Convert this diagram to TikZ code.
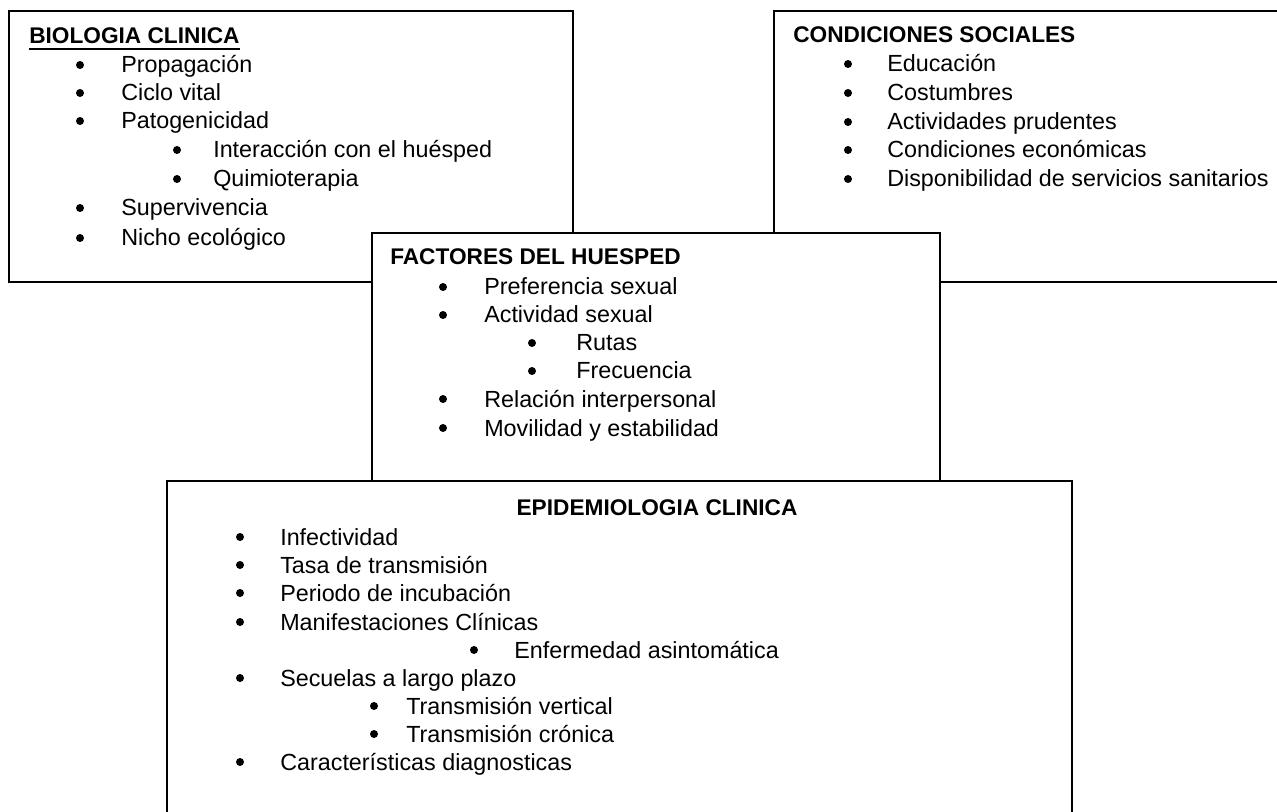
\documentclass[tikz,border=0pt]{standalone}
\usepackage{fontspec}
\setmainfont{Liberation Sans}

% one bullet line: name, bullet x, text x, baseline y, text
\newcommand{\bitem}[5]{%
  \node[dot] (#1-b) at (#2,#4-8) {};
  \node[entry] (#1) at (#3,#4) {#5};}

\begin{document}
\begin{tikzpicture}[
            x=0.75pt, y=-0.75pt,
            % styles
            box/.style={draw=black, fill=white, line width=1pt},
            title/.style={anchor=base west, inner sep=0pt, font=\fontsize{17}{20}\selectfont\bfseries},
            entry/.style={anchor=base west, inner sep=0pt, font=\fontsize{17.5}{21}\selectfont},
            dot/.style={circle, fill=black, inner sep=0pt, minimum size=6pt}
        ]
        \useasboundingbox (0,0) rectangle (1277,812);
        \clip (0,0) rectangle (1277,812);

        % box 1: biologia clinica
        \draw[box] (9,11) rectangle (573,282);
        \node (bio) [title] at (29,44) {BIOLOGIA CLINICA};
        \draw[line width=1.4pt] ([yshift=-4pt]bio.base west) -- ([yshift=-4pt]bio.base east);
        \bitem{bio1}{80}{121}{73}{Propagación}
        \bitem{bio2}{80}{121}{101}{Ciclo vital}
        \bitem{bio3}{80}{121}{129}{Patogenicidad}
        \bitem{bio4}{177}{213}{158}{Interacción con el huésped}
        \bitem{bio5}{177}{213}{187}{Quimioterapia}
        \bitem{bio6}{80}{121}{216}{Supervivencia}
        \bitem{bio7}{80}{121}{246}{Nicho ecológico}

        % box 2: condiciones sociales
        \draw[box] (774,11) rectangle (1300,282);
        \node (soc) [title] at (793,43) {CONDICIONES SOCIALES};
        \bitem{soc1}{848}{887}{72}{Educación}
        \bitem{soc2}{848}{887}{101}{Costumbres}
        \bitem{soc3}{848}{887}{130}{Actividades prudentes}
        \bitem{soc4}{848}{887}{158}{Condiciones económicas}
        \bitem{soc5}{848}{887}{187}{Disponibilidad de servicios sanitarios}

        % box 3: factores del huesped
        \draw[box] (372,233) rectangle (940,540);
        \node (hue) [title] at (390,265) {FACTORES DEL HUESPED};
        \bitem{hue1}{443}{484}{295}{Preferencia sexual}
        \bitem{hue2}{443}{484}{323}{Actividad sexual}
        \bitem{hue3}{532}{576}{351}{Rutas}
        \bitem{hue4}{532}{576}{379}{Frecuencia}
        \bitem{hue5}{443}{484}{407}{Relación interpersonal}
        \bitem{hue6}{443}{484}{436}{Movilidad y estabilidad}

        % box 4: epidemiologia clinica
        \draw[box] (167,481) rectangle (1072,840);
        \node (epi) [title, anchor=base] at (657,515) {EPIDEMIOLOGIA CLINICA};
        \bitem{epi1}{240}{280}{545}{Infectividad}
        \bitem{epi2}{240}{280}{573}{Tasa de transmisión}
        \bitem{epi3}{240}{280}{601}{Periodo de incubación}
        \bitem{epi4}{240}{280}{630}{Manifestaciones Clínicas}
        \bitem{epi5}{474}{514}{658}{Enfermedad asintomática}
        \bitem{epi6}{240}{280}{686}{Secuelas a largo plazo}
        \bitem{epi7}{374}{406}{714}{Transmisión vertical}
        \bitem{epi8}{374}{406}{742}{Transmisión crónica}
        \bitem{epi9}{240}{280}{770}{Características diagnosticas}

        \end{tikzpicture}
\end{document}
